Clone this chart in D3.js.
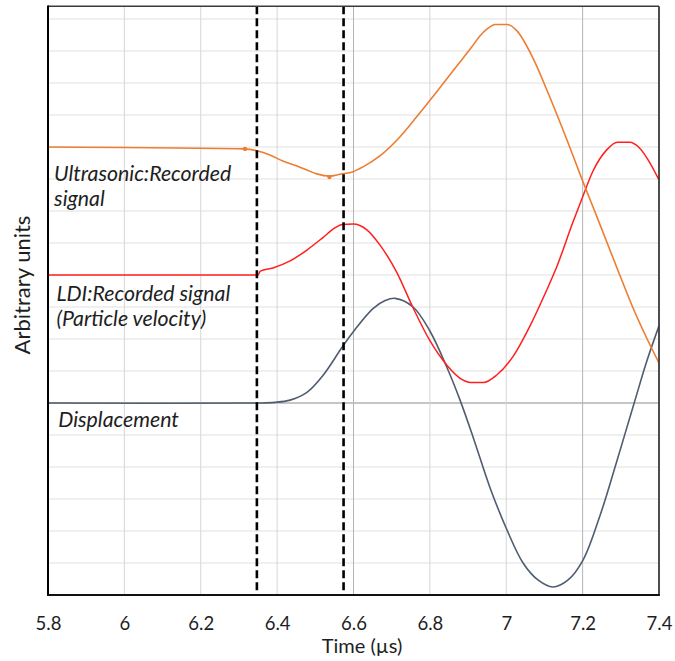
<!DOCTYPE html>
<html>
<head>
<meta charset="utf-8">
<script src="https://cdn.jsdelivr.net/npm/d3@7"></script>
<style>
  html, body { margin: 0; padding: 0; background: #fff; }
  svg { display: block; }
  text { font-family: Lato, "Open Sans", sans-serif; }
</style>
</head>
<body>
<svg id="chart" width="675" height="661"></svg>
<script>
// ---- data (time in µs, arbitrary units) ----
const xTicks = [5.8, 6.0, 6.2, 6.4, 6.6, 6.8, 7.0, 7.2, 7.4];
const xTickLabels = ["5.8", "6", "6.2", "6.4", "6.6", "6.8", "7", "7.2", "7.4"];
const yGrid = [-6, -5, -4, -3, -2, -1, 0, 1, 2, 3, 4, 5, 6, 7, 8, 9, 10, 11, 12];
const markerTimes = [6.347, 6.574];

const ultrasonicT = [5.8, 6.316, 6.347, 6.381, 6.415, 6.452, 6.478, 6.504, 6.538, 6.565, 6.599, 6.625, 6.669, 6.714, 6.766, 6.819, 6.871, 6.910, 6.931, 6.950, 6.971, 7.002, 7.028, 7.070, 7.115, 7.159, 7.201, 7.246, 7.290, 7.332, 7.369, 7.400];
const ultrasonicV = [8.0, 7.94, 7.88, 7.75, 7.56, 7.41, 7.28, 7.16, 7.09, 7.15, 7.23, 7.38, 7.72, 8.22, 8.95, 9.74, 10.54, 11.13, 11.47, 11.69, 11.83, 11.83, 11.63, 10.78, 9.53, 8.22, 6.91, 5.56, 4.22, 2.97, 2.0, 1.25];
const ultrasonicDots = [[6.316, 7.94], [6.537, 7.06]];

const ldiT = [5.8, 6.350, 6.356, 6.389, 6.434, 6.478, 6.520, 6.551, 6.570, 6.599, 6.635, 6.669, 6.713, 6.755, 6.799, 6.844, 6.886, 6.905, 6.940, 6.975, 7.017, 7.061, 7.106, 7.132, 7.174, 7.200, 7.226, 7.263, 7.291, 7.323, 7.349, 7.375, 7.400];
const ldiV = [4.0, 4.0, 4.12, 4.22, 4.44, 4.78, 5.17, 5.47, 5.58, 5.59, 5.41, 4.94, 4.09, 3.0, 1.97, 1.19, 0.72, 0.64, 0.64, 0.875, 1.44, 2.38, 3.53, 4.25, 5.63, 6.44, 7.22, 7.91, 8.15, 8.15, 7.97, 7.53, 6.97];

const dispT = [5.8, 6.350, 6.394, 6.434, 6.478, 6.520, 6.570, 6.599, 6.651, 6.683, 6.709, 6.756, 6.800, 6.845, 6.879, 6.913, 6.957, 7.002, 7.044, 7.083, 7.122, 7.162, 7.201, 7.246, 7.285, 7.335, 7.369, 7.400];
const dispV = [0, 0, 0.02, 0.09, 0.33, 0.86, 1.74, 2.22, 2.95, 3.20, 3.27, 3.0, 2.25, 1.10, 0.09, -1.06, -2.63, -3.97, -5.0, -5.53, -5.75, -5.53, -4.91, -3.5, -2.0, 0, 1.34, 2.41];

const labels = [
  { lines: ["Ultrasonic:Recorded", "signal"], t: 5.816, v: 6.94 },
  { lines: ["LDI:Recorded signal", "(Particle velocity)"], t: 5.822, v: 3.18 },
  { lines: ["Displacement"], t: 5.827, v: -0.76 }
];

// ---- layout ----
const svg = d3.select("#chart");
const pL = 48, pR = 659, pT = 6.2, pB = 595;
const x = d3.scaleLinear().domain([5.8, 7.4]).range([pL, pR]);
const y = d3.scaleLinear().domain([-6, 12.4]).range([pB, pT]);

// grid
const grid = svg.append("g");
grid.selectAll("line.h").data(yGrid).join("line")
  .attr("x1", pL).attr("x2", pR)
  .attr("y1", d => y(d)).attr("y2", d => y(d))
  .attr("stroke", d => d === 0 ? "#8c8c8c" : "#e0e0e0")
  .attr("stroke-width", 1);
grid.selectAll("line.v").data(xTicks.slice(1, -1)).join("line")
  .attr("x1", d => x(d)).attr("x2", d => x(d))
  .attr("y1", pT).attr("y2", pB)
  .attr("stroke", d => (Math.abs(d - 6.6) < 1e-6 || Math.abs(d - 7.2) < 1e-6) ? "#b4b4b4" : "#d6d6d6")
  .attr("stroke-width", 1);

// series
function series(ts, vs) { return ts.map((t, i) => [t, vs[i]]); }
const line = d3.line().x(d => x(d[0])).y(d => y(d[1])).curve(d3.curveMonotoneX);
const smoothLine = d3.line().x(d => x(d[0])).y(d => y(d[1])).curve(d3.curveCatmullRom.alpha(0.5));

svg.append("path").datum(series(dispT, dispV))
  .attr("d", smoothLine).attr("fill", "none")
  .attr("stroke", "#4f5d70").attr("stroke-width", 1.6);
svg.append("path").datum(series(ldiT, ldiV))
  .attr("d", line).attr("fill", "none")
  .attr("stroke", "#ff1f1f").attr("stroke-width", 1.5);
svg.append("path").datum(series(ultrasonicT, ultrasonicV))
  .attr("d", line).attr("fill", "none")
  .attr("stroke", "#ed7d31").attr("stroke-width", 1.6);
svg.selectAll("circle.dot").data(ultrasonicDots).join("circle")
  .attr("cx", d => x(d[0])).attr("cy", d => y(d[1])).attr("r", 2.2)
  .attr("fill", "#ed7d31");

// dashed markers
svg.selectAll("line.mark").data(markerTimes).join("line")
  .attr("x1", d => x(d)).attr("x2", d => x(d))
  .attr("y1", pT).attr("y2", pB)
  .attr("stroke", "#000").attr("stroke-width", 2.6)
  .attr("stroke-dasharray", "8,4");

// frame
svg.append("line").attr("x1", pL).attr("x2", pR).attr("y1", pT).attr("y2", pT)
  .attr("stroke", "#3a3a3a").attr("stroke-width", 1.6);
svg.append("line").attr("x1", pR).attr("x2", pR).attr("y1", pT).attr("y2", pB)
  .attr("stroke", "#3a3a3a").attr("stroke-width", 1.8);
svg.append("line").attr("x1", pL).attr("x2", pL).attr("y1", pT - 0.8).attr("y2", pB + 1)
  .attr("stroke", "#000").attr("stroke-width", 2);
svg.append("line").attr("x1", pL - 1).attr("x2", pR + 0.9).attr("y1", pB).attr("y2", pB)
  .attr("stroke", "#111").attr("stroke-width", 2);

// x axis labels
const xAxis = d3.axisBottom(x).tickValues(xTicks)
  .tickFormat((d, i) => xTickLabels[i]).tickSize(0).tickPadding(0);
const gx = svg.append("g").attr("transform", `translate(0,${pB})`).call(xAxis);
gx.select(".domain").remove();
gx.selectAll("text")
  .attr("dy", null).attr("y", 34.5)
  .attr("font-family", "Lato, sans-serif").attr("font-size", 18.5).attr("fill", "#1e1e1e");

svg.append("text").attr("x", 362).attr("y", 653)
  .attr("text-anchor", "middle").attr("font-size", 20).attr("fill", "#1e1e1e")
  .text("Time (µs)");

svg.append("text").attr("transform", "translate(30,285) rotate(-90)")
  .attr("text-anchor", "middle").attr("font-size", 22).attr("fill", "#1e1e1e")
  .text("Arbitrary units");

// curve labels
labels.forEach(l => {
  const t = svg.append("text")
    .attr("x", x(l.t)).attr("y", y(l.v))
    .attr("font-size", 21.3).attr("font-style", "italic").attr("fill", "#1e1e1e");
  l.lines.forEach((s, i) => {
    t.append("tspan").attr("x", x(l.t)).attr("dy", i === 0 ? 0 : 25).text(s);
  });
});
</script>
</body>
</html>
